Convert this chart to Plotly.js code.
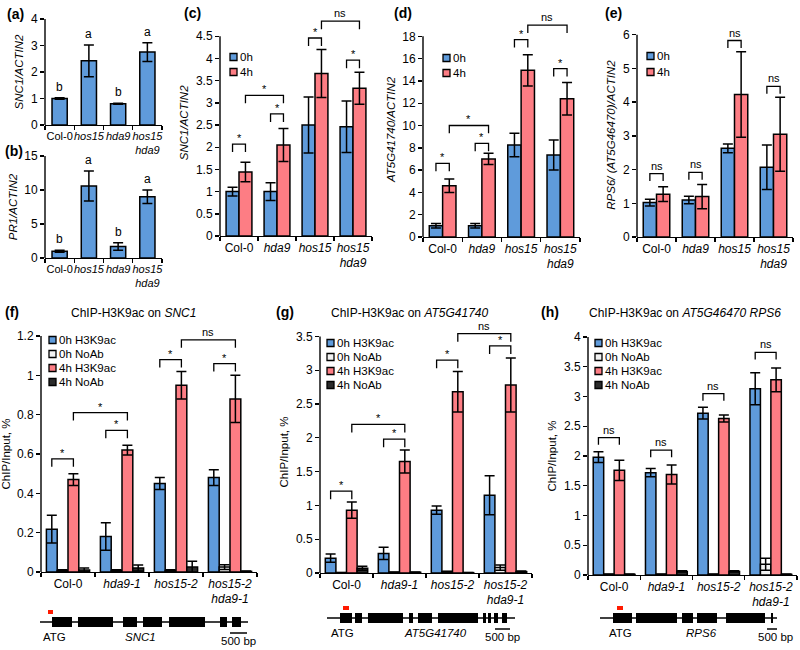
<!DOCTYPE html>
<html><head><meta charset="utf-8">
<script src="https://cdn.plot.ly/plotly-3.0.1.min.js"></script>
<style>html,body{margin:0;padding:0;background:#fff}#chart{width:800px;height:650px}</style>
</head><body><div id="chart"></div>
<script>
// ---------------- DATA ----------------
const groupsA = ['Col-0', '<i>hos15</i>', '<i>hda9</i>', '<i>hos15<br>hda9</i>'];
const groupsC = ['Col-0', '<i>hda9</i>', '<i>hos15</i>', '<i>hos15<br>hda9</i>'];
const groupsF = ['Col-0', '<i>hda9-1</i>', '<i>hos15-2</i>', '<i>hos15-2<br>hda9-1</i>'];

// (a) SNC1/ACTIN2
const aVals = [1.0, 2.42, 0.8, 2.75];
const aErr = [0.03, 0.6, 0.02, 0.35];
const aLetters = ['b', 'a', 'b', 'a'];
// (b) PR1/ACTIN2
const bVals = [1.0, 10.6, 1.7, 9.0];
const bErr = [0.15, 2.2, 0.55, 1.0];
const bLetters = ['b', 'a', 'b', 'a'];
// (c) SNC1/ACTIN2, 0h / 4h
const c0h = [1.0, 1.0, 2.5, 2.46];
const c0hErr = [0.1, 0.2, 0.63, 0.58];
const c4h = [1.44, 2.05, 3.66, 3.33];
const c4hErr = [0.22, 0.37, 0.54, 0.36];
// (d) AT5G41740/ACTIN2
const d0h = [1.0, 1.0, 8.25, 7.35];
const d0hErr = [0.2, 0.2, 1.05, 1.35];
const d4h = [4.6, 7.0, 14.95, 12.4];
const d4hErr = [0.6, 0.5, 1.4, 1.45];
// (e) RPS6/(AT5G46470)/ACTIN2
const e0h = [1.02, 1.1, 2.63, 2.07];
const e0hErr = [0.1, 0.11, 0.13, 0.66];
const e4h = [1.27, 1.2, 4.23, 3.05];
const e4hErr = [0.22, 0.36, 1.27, 1.1];
// (f) ChIP-H3K9ac on SNC1
const f0hAc = [0.218, 0.18, 0.45, 0.48];   const f0hAcErr = [0.07, 0.07, 0.03, 0.04];
const f0hNo = [0.008, 0.008, 0.008, 0.025]; const f0hNoErr = [0.003, 0.003, 0.003, 0.012];
const f4hAc = [0.47, 0.62, 0.95, 0.88];    const f4hAcErr = [0.03, 0.025, 0.07, 0.12];
const f4hNo = [0.01, 0.02, 0.025, 0.003];  const f4hNoErr = [0.01, 0.015, 0.03, 0.002];
// (g) ChIP-H3K9ac on AT5G41740
const g0hAc = [0.22, 0.29, 0.93, 1.15];    const g0hAcErr = [0.06, 0.09, 0.06, 0.29];
const g0hNo = [0.005, 0.01, 0.02, 0.08];   const g0hNoErr = [0.003, 0.003, 0.005, 0.04];
const g4hAc = [0.93, 1.65, 2.68, 2.78];    const g4hAcErr = [0.12, 0.17, 0.3, 0.4];
const g4hNo = [0.07, 0.01, 0.005, 0.02];   const g4hNoErr = [0.03, 0.005, 0.003, 0.01];
// (h) ChIP-H3K9ac on AT5G46470 RPS6
const h0hAc = [1.98, 1.72, 2.72, 3.13];    const h0hAcErr = [0.09, 0.07, 0.1, 0.27];
const h0hNo = [0.01, 0.01, 0.01, 0.18];    const h0hNoErr = [0.005, 0.005, 0.005, 0.1];
const h4hAc = [1.76, 1.69, 2.63, 3.28];    const h4hAcErr = [0.17, 0.16, 0.06, 0.2];
const h4hNo = [0.01, 0.06, 0.06, 0.01];    const h4hNoErr = [0.005, 0.01, 0.01, 0.005];

// significance brackets: [group1, series1, group2, series2, top value, label]
const cBrackets = [[0,0,0,1,2.07,'*'],[1,0,1,1,2.75,'*'],[0,1,1,1,3.17,'*'],[2,0,2,1,4.46,'*'],[3,0,3,1,3.96,'*'],[2,1,3,1,4.84,'ns']];
const dBrackets = [[0,0,0,1,6.6,'*'],[1,0,1,1,8.4,'*'],[0,1,1,1,10.0,'*'],[2,0,2,1,17.7,'*'],[3,0,3,1,15.1,'*'],[2,1,3,1,19.0,'ns']];
const eBrackets = [[0,0,0,1,1.88,'ns'],[1,0,1,1,1.92,'ns'],[2,0,2,1,5.83,'ns'],[3,0,3,1,4.47,'ns']];
const fBrackets = [[0,0,0,2,0.575,'*'],[1,0,1,2,0.72,'*'],[0,2,1,2,0.81,'*'],[2,0,2,2,1.08,'*'],[3,0,3,2,1.06,'*'],[2,2,3,2,1.18,'ns']];
const gBrackets = [[0,0,0,2,1.21,'*'],[1,0,1,2,1.98,'*'],[0,2,1,2,2.2,'*'],[2,0,2,2,3.15,'*'],[3,0,3,2,3.36,'*'],[2,2,3,2,3.54,'ns']];
const hBrackets = [[0,0,0,2,2.31,'ns'],[1,0,1,2,2.1,'ns'],[2,0,2,2,3.05,'ns'],[3,0,3,2,3.74,'ns']];

// gene models (bp)
const snc1Len = 6115, snc1Exons = [[353,941],[1117,2146],[2440,2852],[3028,3587],[3793,4851],[5292,5498],[5645,5909]], snc1Probe = [235,382], snc1Atg = 440, snc1Name = 2940, snc1Scale = [5586,6086];
const at41Len = 6266, at41Exons = [[433,833],[933,1166],[1366,2533],[2733,2866],[3033,3500],[3700,5033],[5200,5300],[5366,5466],[5566,5700],[5833,6000]], at41Probe = [533,733], at41Atg = 533, at41Name = 3600, at41Scale = [5600,6100];
const rps6Len = 5531, rps6Exons = [[406,1000],[1125,2406],[2563,2906],[3031,3656],[3938,5156],[5344,5406]], rps6Probe = [531,719], rps6Atg = 656, rps6Name = 3156, rps6Scale = [5219,5719];

// ---------------- STYLE / BUILD ----------------
const FONT = 'Liberation Sans, Arial, Helvetica, sans-serif';
const BLUE = '#5f9bdb', PINK = '#fd7d84', LIGHT = '#f2f2f2', DARK = '#2b2b2b';
const W = 800, H = 650;
const X = p => p / W, Y = p => 1 - p / H;
const traces = [];
const layout = {
  width: W, height: H, margin: {l: 0, r: 0, t: 0, b: 0},
  paper_bgcolor: 'white', plot_bgcolor: 'rgba(0,0,0,0)',
  barmode: 'overlay', showlegend: false, hovermode: false,
  font: {family: FONT, size: 12, color: 'black'},
  shapes: [], annotations: []
};

function fmt(v) { return String(v); }

function addLegend(x, ys, series) {
  series.forEach((s, i) => {
    layout.shapes.push({type: 'rect', xref: 'paper', yref: 'paper', x0: X(x), x1: X(x + 7), y0: Y(ys[i] + 3.5), y1: Y(ys[i] - 3.5),
      fillcolor: s.color, line: {color: 'black', width: 1.3}});
    layout.annotations.push({xref: 'paper', yref: 'paper', x: X(x + 8), y: Y(ys[i]), text: s.name, showarrow: false,
      xanchor: 'left', yanchor: 'middle', font: {size: 11.5}});
  });
}

function addPanel(p) {
  const xn = 'xaxis' + p.k, yn = 'yaxis' + p.k, xr = 'x' + p.k, yr = 'y' + p.k;
  layout[xn] = {
    domain: [X(p.xd[0]), X(p.xd[1])], range: [-0.5, 3.5], anchor: yr,
    tickmode: 'array', tickvals: [0, 1, 2, 3], ticktext: p.cats, ticks: '', tickangle: 0,
    tickfont: {size: p.xfs || 12}, showline: true, linecolor: 'black', linewidth: 1.4,
    showgrid: false, zeroline: false, fixedrange: true,
    minor: {tickmode: 'array', tickvals: [-0.5, 0.5, 1.5, 2.5, 3.5], ticks: 'outside', ticklen: 4, tickwidth: 1.4, tickcolor: 'black', showgrid: false}
  };
  layout[yn] = {
    domain: [Y(p.yd[1]), Y(p.yd[0])], range: p.range, anchor: xr,
    tickmode: 'array', tickvals: p.ticks, ticktext: p.ticks.map(fmt), ticks: 'outside',
    ticklen: 4, tickwidth: 1.4, tickcolor: 'black', tickfont: {size: p.yfs || 12},
    showline: false, showgrid: false, zeroline: false, fixedrange: true,
    title: {text: p.title, font: {size: 11.5}, standoff: 4}
  };
  layout.shapes.push({type: 'line', xref: xr + ' domain', yref: yr, x0: 0, x1: 0, y0: 0, y1: p.ticks[p.ticks.length - 1], line: {color: 'black', width: 1.4}});
  const n = p.series.length, w = p.w;
  const centers = [];
  p.series.forEach((s, i) => {
    const off = -n * w / 2 + i * w;
    centers.push(off + w / 2);
    traces.push({
      type: 'bar', x: [0, 1, 2, 3], y: s.v, xaxis: xr, yaxis: yr, width: w, offset: off,
      name: s.name, showlegend: false,
      marker: {color: s.color, line: {color: 'black', width: 1.5}},
      error_y: {type: 'data', array: s.e, visible: true, color: 'black', thickness: 1.5, width: 5}
    });
  });
  (p.brackets || []).forEach(b => {
    const x1 = b[0] + centers[b[1]], x2 = b[2] + centers[b[3]], yt = b[4], yl = yt - p.leg;
    layout.shapes.push({type: 'path', xref: xr, yref: yr, path: `M${x1},${yl} L${x1},${yt} L${x2},${yt} L${x2},${yl}`, line: {color: 'black', width: 1.3}});
    layout.annotations.push({xref: xr, yref: yr, x: (x1 + x2) / 2, y: yt, text: b[5], showarrow: false, yanchor: 'bottom', font: {size: 11}, yshift: b[5] === '*' ? -2 : 0});
  });
  (p.letters || []).forEach((l, i) => {
    const s = p.series[0];
    layout.annotations.push({xref: xr, yref: yr, x: i, y: s.v[i] + s.e[i], text: l, showarrow: false, yanchor: 'bottom', yshift: 2, font: {size: 12}});
  });
  if (p.legendAt) addLegend(p.legendAt[0], p.legendAt[1], p.series);
  layout.annotations.push({xref: 'paper', yref: 'paper', x: X(p.lab[1]), y: Y(p.lab[2]), text: '<b>' + p.lab[0] + '</b>', showarrow: false, xanchor: 'center', yanchor: 'middle', font: {size: 14}});
  if (p.head) layout.annotations.push({xref: 'paper', yref: 'paper', x: X(p.head[1]), y: Y(p.head[2]), text: p.head[0], showarrow: false, xanchor: 'center', yanchor: 'middle', font: {size: 12}});
}

const s2 = (v0, e0, v4, e4) => [{name: '0h', v: v0, e: e0, color: BLUE}, {name: '4h', v: v4, e: e4, color: PINK}];
const s4 = (a, ae, b, be, c, ce, d, de) => [
  {name: '0h H3K9ac', v: a, e: ae, color: BLUE}, {name: '0h NoAb', v: b, e: be, color: LIGHT},
  {name: '4h H3K9ac', v: c, e: ce, color: PINK}, {name: '4h NoAb', v: d, e: de, color: DARK}];
const rng = (a, b, s) => { const r = []; for (let v = a; v <= b + 1e-9; v += s) r.push(+v.toFixed(2)); return r; };

addPanel({k: '', xd: [45, 162], yd: [19, 125], range: [0, 4], ticks: rng(0, 4, 1), title: '<i>SNC1/ACTIN2</i>', cats: groupsA, w: 0.52, xfs: 11,
  series: [{name: 'a', v: aVals, e: aErr, color: BLUE}], letters: aLetters, lab: ['(a)', 15, 14]});
addPanel({k: '2', xd: [45, 162], yd: [156, 258], range: [0, 15], ticks: rng(0, 15, 5), title: '<i>PR1/ACTIN2</i>', cats: groupsA, w: 0.52, xfs: 11,
  series: [{name: 'b', v: bVals, e: bErr, color: BLUE}], letters: bLetters, lab: ['(b)', 14, 151]});
addPanel({k: '3', xd: [220, 372], yd: [9.6, 236], range: [0, 5.1], ticks: rng(0, 4.5, 0.5), title: '<i>SNC1/ACTIN2</i>', cats: groupsC, w: 0.34, leg: 0.18,
  series: s2(c0h, c0hErr, c4h, c4hErr), brackets: cBrackets, legendAt: [230, [57, 72]], lab: ['(c)', 192, 13]});
addPanel({k: '4', xd: [423, 580], yd: [21.8, 237], range: [0, 19.3], ticks: rng(0, 18, 2), title: '<i>AT5G41740/ACTIN2</i>', cats: groupsC, w: 0.34, leg: 0.7,
  series: s2(d0h, d0hErr, d4h, d4hErr), brackets: dBrackets, legendAt: [443, [58, 73]], lab: ['(d)', 403, 13]});
addPanel({k: '5', xd: [637, 793], yd: [33.1, 237], range: [0, 6.05], ticks: rng(0, 6, 1), title: '<i>RPS6/ (AT5G46470)/ACTIN2</i>', cats: groupsC, w: 0.34, leg: 0.22,
  series: s2(e0h, e0hErr, e4h, e4hErr), brackets: eBrackets, legendAt: [647, [56, 72]], lab: ['(e)', 613, 13]});
addPanel({k: '6', xd: [41, 257], yd: [336, 572], range: [0, 1.2], ticks: rng(0, 1.2, 0.2), title: 'ChIP/Input, %', cats: groupsF, w: 0.2, leg: 0.04,
  series: s4(f0hAc, f0hAcErr, f0hNo, f0hNoErr, f4hAc, f4hAcErr, f4hNo, f4hNoErr), brackets: fBrackets, legendAt: [49, [340, 354, 368, 382]], lab: ['(f)', 12, 312],
  head: ['ChIP-H3K9ac on <i>SNC1</i>', 133, 313]});
addPanel({k: '7', xd: [320, 532], yd: [331, 573], range: [0, 3.58], ticks: rng(0, 3.5, 0.5), title: 'ChIP/Input, %', cats: groupsF, w: 0.2, leg: 0.12,
  series: s4(g0hAc, g0hAcErr, g0hNo, g0hNoErr, g4hAc, g4hAcErr, g4hNo, g4hNoErr), brackets: gBrackets, legendAt: [327, [343, 357, 371, 385]], lab: ['(g)', 285, 312],
  head: ['ChIP-H3K9ac on <i>AT5G41740</i>', 410, 313]});
addPanel({k: '8', xd: [588, 797], yd: [337, 575], range: [0, 4], ticks: rng(0, 4, 0.5), title: 'ChIP/Input, %', cats: groupsF, w: 0.2, leg: 0.12,
  series: s4(h0hAc, h0hAcErr, h0hNo, h0hNoErr, h4hAc, h4hAcErr, h4hNo, h4hNoErr), brackets: hBrackets, legendAt: [595, [343, 357, 371, 385]], lab: ['(h)', 550, 312],
  head: ['ChIP-H3K9ac on <i>AT5G46470 RPS6</i>', 685, 313]});

// gene models
function addGene(k, xd, lineY, len, exons, probe, atg, nameX, name, scale) {
  const xr = 'x' + k;
  layout['xaxis' + k] = {domain: [X(xd[0]), X(xd[1])], range: [0, len], visible: false, anchor: 'y' + k, fixedrange: true};
  layout['yaxis' + k] = {domain: [0, 0.04], range: [0, 1], visible: false, anchor: 'x' + k, fixedrange: true};
  layout.shapes.push({type: 'line', xref: xr, yref: 'paper', x0: 0, x1: len, y0: Y(lineY), y1: Y(lineY), line: {color: 'black', width: 1.3}});
  exons.forEach(e => layout.shapes.push({type: 'rect', xref: xr, yref: 'paper', x0: e[0], x1: e[1], y0: Y(lineY + 5), y1: Y(lineY - 5), fillcolor: 'black', line: {width: 0}}));
  layout.shapes.push({type: 'rect', xref: xr, yref: 'paper', x0: probe[0], x1: probe[1], y0: Y(lineY - 8), y1: Y(lineY - 12), fillcolor: '#ff1a00', line: {width: 0}});
  layout.shapes.push({type: 'line', xref: xr, yref: 'paper', x0: scale[0], x1: scale[1], y0: Y(lineY + 11), y1: Y(lineY + 11), line: {color: 'black', width: 1.5}});
  layout.annotations.push({xref: xr, yref: 'paper', x: atg, y: Y(lineY + 15), text: 'ATG', showarrow: false, yanchor: 'middle', font: {size: 11.5}});
  layout.annotations.push({xref: xr, yref: 'paper', x: nameX, y: Y(lineY + 15), text: '<i>' + name + '</i>', showarrow: false, yanchor: 'middle', font: {size: 11.5}});
  layout.annotations.push({xref: xr, yref: 'paper', x: (scale[0] + scale[1]) / 2, y: Y(lineY + 19), text: '500 bp', showarrow: false, yanchor: 'middle', font: {size: 11.5}});
}
addGene('9', [40, 248], 622, snc1Len, snc1Exons, snc1Probe, snc1Atg, snc1Name, 'SNC1', snc1Scale);
addGene('10', [327, 515], 618, at41Len, at41Exons, at41Probe, at41Atg, at41Name, 'AT5G41740', at41Scale);
addGene('11', [600, 777], 618, rps6Len, rps6Exons, rps6Probe, rps6Atg, rps6Name, 'RPS6', rps6Scale);

Plotly.newPlot('chart', traces, layout, {staticPlot: true, displayModeBar: false});
</script></body></html>
